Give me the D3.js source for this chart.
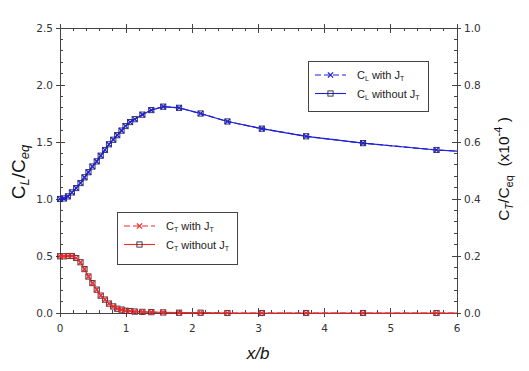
<!DOCTYPE html>
<html>
<head>
<meta charset="utf-8">
<script src="https://cdn.jsdelivr.net/npm/d3@7/dist/d3.min.js"></script>
<style>
  html, body { margin: 0; padding: 0; background: #fff; }
  svg text { font-family: "DejaVu Sans", Verdana, sans-serif; }
  .lbl { font-family: "Liberation Sans", Arial, sans-serif; }
</style>
</head>
<body>
<svg id="chart" width="529" height="371"></svg>
<script>
// posições x/b (mesma malha para as duas séries)
const xb = [0, 0.06, 0.12, 0.18, 0.245, 0.31, 0.37, 0.43, 0.49, 0.555, 0.615, 0.68, 0.74, 0.805,
  0.865, 0.93, 0.99, 1.06, 1.13, 1.245, 1.38, 1.56, 1.80, 2.125, 2.53, 3.05, 3.72, 4.58, 5.69, 6.0];

// C_L/C_eq (eixo esquerdo)
const clWith = [1.00, 1.005, 1.023, 1.058, 1.096, 1.14, 1.19, 1.235, 1.285, 1.33, 1.38, 1.43, 1.48, 1.52,
  1.56, 1.60, 1.64, 1.675, 1.70, 1.74, 1.78, 1.81, 1.80, 1.75, 1.68, 1.617, 1.55, 1.49, 1.43, 1.42];
const clWithout = clWith.slice();

// C_T/C_eq x10^-4 (eixo direito)
const ctWith = [0.199, 0.199, 0.2, 0.2, 0.193, 0.178, 0.154, 0.128, 0.105, 0.082, 0.061, 0.047, 0.033, 0.023,
  0.015, 0.012, 0.008, 0.007, 0.005, 0.004, 0.003, 0.002, 0.001, 0.001, 0, 0, 0, 0, 0, 0];
const ctWithout = ctWith.slice();

const xTicks = [0, 1, 2, 3, 4, 5, 6];
const yLTicks = [0, 0.5, 1.0, 1.5, 2.0, 2.5];
const yRTicks = [0, 0.2, 0.4, 0.6, 0.8, 1.0];

const BLUE = '#1f1fd6', RED = '#ee2a2a', DARK = '#2a2a3a', AX = '#444';

const svg = d3.select('#chart');
const L = 60, R = 457, T = 28, B = 313;

const x = d3.scaleLinear().domain([0, 6]).range([L, R]);
const yL = d3.scaleLinear().domain([0, 2.5]).range([B, T]);
const yR = d3.scaleLinear().domain([0, 1]).range([B, T]);

// eixos: traço maior cruzando, menor para dentro
function minor(scale, step) {
  const [a, b] = scale.domain();
  const out = [];
  for (let v = a; v <= b + 1e-9; v += step) out.push(+v.toFixed(4));
  return out;
}
const g = svg.append('g').attr('stroke', AX).attr('stroke-width', 1).attr('shape-rendering', 'crispEdges');
g.append('rect').attr('x', L).attr('y', T).attr('width', R - L).attr('height', B - T).attr('fill', 'none');

minor(x, 0.2).forEach((v) => {
  g.append('line').attr('x1', x(v)).attr('x2', x(v)).attr('y1', B).attr('y2', B - 3);
  g.append('line').attr('x1', x(v)).attr('x2', x(v)).attr('y1', T).attr('y2', T + 3);
});
xTicks.forEach((v) => {
  g.append('line').attr('x1', x(v)).attr('x2', x(v)).attr('y1', B - 5).attr('y2', B + 4);
  g.append('line').attr('x1', x(v)).attr('x2', x(v)).attr('y1', T - 4).attr('y2', T + 5);
});
minor(yL, 0.1).forEach((v) => {
  g.append('line').attr('x1', L).attr('x2', L + 3).attr('y1', yL(v)).attr('y2', yL(v));
});
yLTicks.forEach((v) => {
  g.append('line').attr('x1', L - 4).attr('x2', L + 5).attr('y1', yL(v)).attr('y2', yL(v));
});
minor(yR, 0.04).forEach((v) => {
  g.append('line').attr('x1', R - 3).attr('x2', R).attr('y1', yR(v)).attr('y2', yR(v));
});
yRTicks.forEach((v) => {
  g.append('line').attr('x1', R - 5).attr('x2', R + 4).attr('y1', yR(v)).attr('y2', yR(v));
});

const tl = svg.append('g').attr('font-size', 10.5).attr('fill', '#333');
xTicks.forEach((v) => tl.append('text').attr('x', x(v)).attr('y', B + 19).attr('text-anchor', 'middle').text(v));
yLTicks.forEach((v) => tl.append('text').attr('x', L - 7).attr('y', yL(v) + 4).attr('text-anchor', 'end').text(v.toFixed(1)));
yRTicks.forEach((v) => tl.append('text').attr('x', R + 7).attr('y', yR(v) + 4).text(v.toFixed(1)));

// séries
function series(xs, ys, yScale, color, dashed, mark) {
  const pts = xs.map((v, i) => [v, ys[i]]);
  const line = d3.line().x((d) => x(d[0])).y((d) => yScale(d[1]));
  svg.append('path').datum(pts).attr('d', line).attr('fill', 'none')
    .attr('stroke', color).attr('stroke-width', 1.2)
    .attr('stroke-dasharray', dashed ? '6,3' : null);
  // último ponto (x=6) fica sob o eixo, sem marcador
  const m = pts.slice(0, -1);
  drawMarks(svg, m.map((d) => [x(d[0]), yScale(d[1])]), mark, color);
}
function drawMarks(parent, pos, mark, color) {
  const s = 2.6;
  pos.forEach(([px, py]) => {
    if (mark === 'x') {
      parent.append('path')
        .attr('d', `M${px - s},${py - s}L${px + s},${py + s}M${px - s},${py + s}L${px + s},${py - s}`)
        .attr('stroke', color).attr('stroke-width', 1.3).attr('fill', 'none');
    } else {
      parent.append('rect').attr('x', px - s).attr('y', py - s).attr('width', 2 * s).attr('height', 2 * s)
        .attr('fill', 'none').attr('stroke', DARK).attr('stroke-width', 0.9);
    }
  });
}

series(xb, clWithout, yL, BLUE, false, 'sq');
series(xb, clWith, yL, BLUE, true, 'x');
series(xb, ctWithout, yR, RED, false, 'sq');
series(xb, ctWith, yR, RED, true, 'x');

// legendas
function legend(bx, by, bw, bh, color, sub) {
  const lg = svg.append('g');
  lg.append('rect').attr('x', bx).attr('y', by).attr('width', bw).attr('height', bh)
    .attr('fill', '#fff').attr('stroke', AX).attr('stroke-width', 1).attr('shape-rendering', 'crispEdges');
  const rows = [['with', true, 'x'], ['without', false, 'sq']];
  rows.forEach(([w, dashed, mk], i) => {
    const yy = by + 14 + i * 18.5;
    lg.append('line').attr('x1', bx + 7).attr('x2', bx + 38).attr('y1', yy).attr('y2', yy)
      .attr('stroke', color).attr('stroke-width', 1.1).attr('stroke-dasharray', dashed ? '6,3' : null);
    drawMarks(lg, [[bx + 22.5, yy]], mk, color);
    const t = lg.append('text').attr('class', 'lbl').attr('x', bx + 49).attr('y', yy + 4)
      .attr('font-size', 11).attr('fill', '#222');
    t.append('tspan').text('C');
    t.append('tspan').attr('font-size', 7).attr('dy', 2).text(sub);
    t.append('tspan').attr('dy', -2).text(' ' + w + ' J');
    t.append('tspan').attr('font-size', 7).attr('dy', 2).text('T');
  });
}
legend(308, 61, 120, 50, BLUE, 'L');
legend(117, 212, 120, 52, RED, 'T');

// rótulos dos eixos
svg.append('text').attr('class', 'lbl').attr('x', 258).attr('y', 359)
  .attr('text-anchor', 'middle').attr('font-size', 17).attr('font-style', 'italic').attr('fill', '#111').text('x/b');

const ylab = svg.append('text').attr('class', 'lbl').attr('transform', 'translate(25,172) rotate(-90)')
  .attr('text-anchor', 'middle').attr('font-size', 19).attr('fill', '#111');
ylab.append('tspan').text('C');
ylab.append('tspan').attr('font-size', 13).attr('font-style', 'italic').attr('dy', 4).text('L');
ylab.append('tspan').attr('dy', -4).text('/C');
ylab.append('tspan').attr('font-size', 13).attr('font-style', 'italic').attr('dy', 4).text('eq');

const yrlab = svg.append('text').attr('class', 'lbl').attr('transform', 'translate(509,169) rotate(-90)')
  .attr('text-anchor', 'middle').attr('font-size', 15.5).attr('fill', '#111');
yrlab.append('tspan').text('C');
yrlab.append('tspan').attr('font-size', 11).attr('font-style', 'italic').attr('dy', 4).text('T');
yrlab.append('tspan').attr('dy', -4).text('/C');
yrlab.append('tspan').attr('font-size', 11).attr('dy', 4).text('eq');
yrlab.append('tspan').attr('dy', -4).text('\u00a0\u00a0(x10');
yrlab.append('tspan').attr('font-size', 11).attr('dy', -7).text('-4');
yrlab.append('tspan').attr('dy', 7).text('\u00a0)');
</script>
</body>
</html>
